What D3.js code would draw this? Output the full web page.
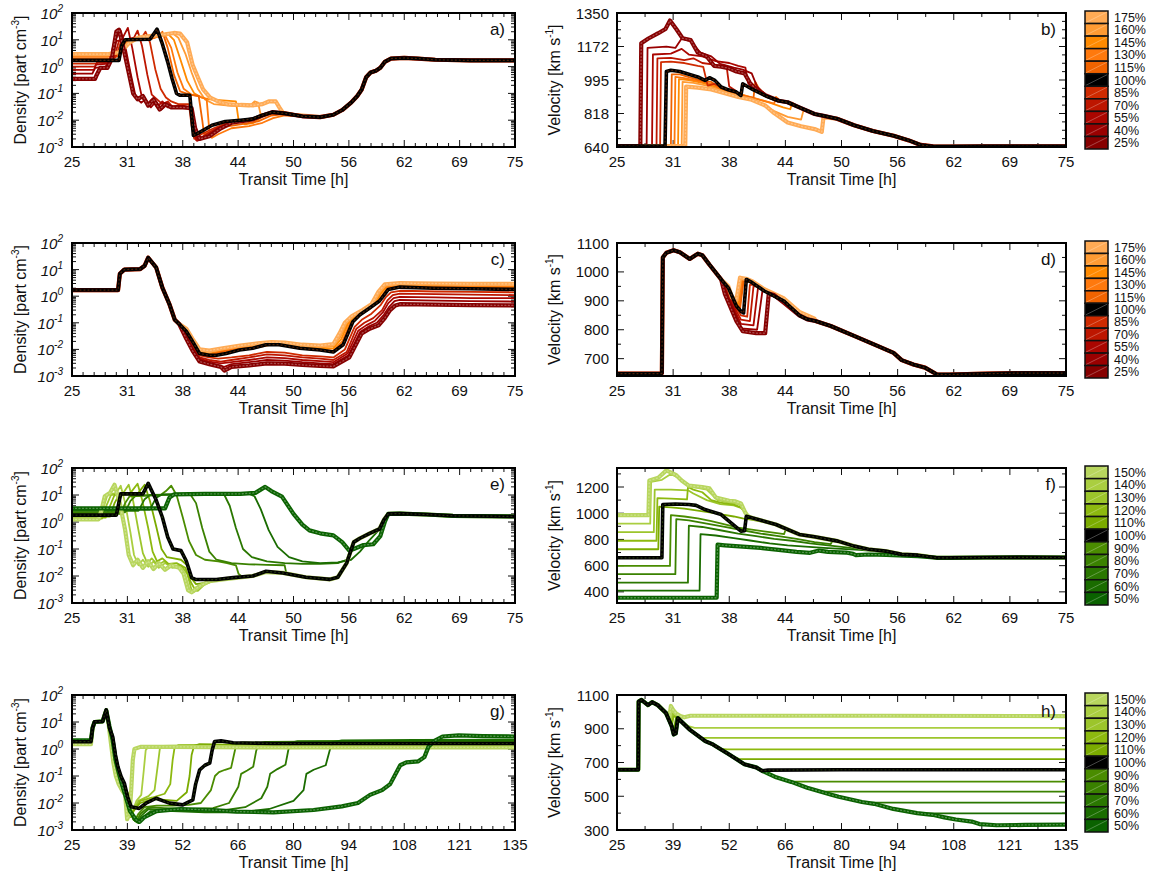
<!DOCTYPE html>
<html>
<head>
<meta charset="utf-8">
<script src="https://cdn.jsdelivr.net/npm/d3@7"></script>
<style>
  html, body { margin: 0; padding: 0; background: #fff; }
  text { font-family: "Liberation Sans", Arial, sans-serif; fill: #111; }
</style>
</head>
<body>
<script>
// ---------- categories, colours and tick labels ----------
const orangeLabels = ["175%","160%","145%","130%","115%","100%","85%","70%","55%","40%","25%"];
const greenLabels  = ["150%","140%","130%","120%","110%","100%","90%","80%","70%","60%","50%"];
const orangeColors = ["#ffab55","#ff9b33","#ff8a00","#ff790d","#f06300","#000000","#cf2a00","#bd1600","#aa0600","#990000","#860000"];
const greenColors  = ["#b8d65e","#aace40","#9cc52b","#8db90f","#7bab00","#000000","#4a8c00","#3a8100","#2a7700","#1a6c00","#0a6200"];
const xLabelsShort = ["25","31","38","44","50","56","62","69","75"];
const xLabelsLong  = ["25","39","52","66","80","94","108","121","135"];
const densExponents = [-3,-2,-1,0,1,2];
const velTicksB = [640, 817.5, 995, 1172.5, 1350];
const velLabelsB = ["640","818","995","1172","1350"];
const velTicksD = [700,800,900,1000,1100];
const velTicksF = [400,600,800,1000,1200];
const velTicksH = [300,500,700,900,1100];

// joins a curve head with the part of a shared tail that follows it
function join(head, tail) {
  const last = head[head.length - 1][0];
  return head.concat(tail.filter(p => p[0] > last));
}

// ---------- a) density, orange family ----------
const tailA = [[53,0.013],[54.5,0.016],[55.5,0.024],[56.5,0.045],[57.2,0.08],[57.7,0.14],[58.2,0.4],[58.7,0.6],[59.3,0.7],[59.8,0.9],[60.3,1.5],[61,2.0],[62.5,2.1],[64,2.0],[66,1.8],[70,1.7],[75,1.7]];
const densA = [
  join([[25,2.9],[29,2.9],[30.5,3.5],[31.5,8],[32.5,12],[34,14],[35.5,16],[36.5,18],[37.2,17],[38,8],[38.6,1.2],[39.2,0.4],[39.8,0.14],[40.6,0.07],[41.5,0.05],[42.5,0.04],[44,0.037],[45.5,0.036],[46.5,0.04],[47.2,0.05],[48,0.05],[48.4,0.03],[48.8,0.019],[50,0.016],[52,0.014]], tailA),
  join([[25,2.7],[29,2.7],[30.3,3.2],[31.2,8],[32.2,11],[34,13],[35.3,16],[36.4,17],[37,12],[37.8,3],[38.5,0.6],[39.2,0.15],[40,0.06],[41,0.04],[43,0.034],[45,0.033],[45.6,0.05],[46,0.045],[46.3,0.016],[47.5,0.018],[49,0.017],[51,0.014]], tailA),
  join([[25,2.5],[29,2.5],[30.3,3],[31,7],[32,10],[34,12],[35,15],[35.8,17],[36.5,10],[37.2,2],[38,0.3],[38.8,0.1],[39.6,0.07],[40.6,0.06],[42,0.055],[43.5,0.05],[43.8,0.01],[44.5,0.007],[45.5,0.008],[46.5,0.014],[47.7,0.018],[49,0.017],[51,0.014]], tailA),
  join([[25,2.3],[29,2.3],[30.3,2.8],[31,7],[32,10],[34,11],[35,14],[35.5,15],[36.2,5],[36.9,0.6],[37.6,0.15],[38.5,0.09],[39.5,0.075],[40.2,0.06],[40.5,0.004],[40.8,0.0022],[41.5,0.003],[43,0.005],[45,0.006],[46.5,0.008],[47.7,0.012],[49,0.015],[51,0.014]], tailA),
  join([[25,2.0],[29.5,2.0],[30.4,2.6],[31,8],[32,10],[34,11],[34.8,14],[35.2,20],[35.8,5],[36.5,0.5],[37.2,0.12],[38.3,0.09],[39.3,0.08],[39.7,0.01],[39.9,0.003],[40.5,0.0035],[42,0.0055],[44,0.007],[46,0.009],[47.5,0.015],[49,0.017],[51,0.014]], tailA),
  join([[25,1.7],[30.3,1.7],[30.6,6],[31,10],[33.8,10.5],[34.3,18],[34.6,25],[35.2,7],[35.8,1.5],[36.3,0.35],[36.8,0.1],[37.2,0.085],[38.3,0.085],[38.55,0.01],[38.7,0.0027],[39.4,0.0035],[40.8,0.0065],[42.3,0.009],[44,0.01],[45.3,0.011],[46.4,0.015],[47.6,0.02],[49,0.018],[51,0.014]], tailA),
  join([[25,1.3],[27.8,1.3],[28,1.6],[29.5,1.6],[30,2.5],[30.5,8],[31.2,10],[32.8,11],[33.3,20],[33.8,8],[34.4,0.8],[35,0.15],[35.6,0.07],[36.2,0.05],[37,0.04],[38.2,0.04],[38.5,0.006],[38.8,0.002],[39.6,0.003],[41,0.005],[42.5,0.008],[44,0.0095],[45.3,0.011],[46.4,0.015],[47.6,0.02],[49,0.018],[51,0.014]], tailA),
  join([[25,1.0],[27.6,1.0],[27.8,1.4],[29.3,1.4],[29.8,2.5],[30.3,9],[31,10],[32,12],[32.4,22],[32.9,6],[33.5,0.5],[34,0.09],[34.6,0.06],[35.2,0.04],[35.8,0.05],[36.4,0.03],[37.5,0.035],[38.4,0.03],[38.7,0.005],[39,0.0018],[39.8,0.0025],[41.3,0.005],[43,0.008],[44.5,0.0095],[45.5,0.011],[46.5,0.015],[47.6,0.02],[49,0.018],[51,0.014]], tailA),
  join([[25,0.75],[27.5,0.75],[27.7,1.2],[29.2,1.3],[29.6,2.5],[30,9],[30.6,10],[31.3,28],[31.8,5],[32.4,0.4],[32.9,0.07],[33.5,0.04],[34,0.06],[34.6,0.03],[35.2,0.05],[35.8,0.03],[37,0.035],[38.3,0.03],[38.8,0.004],[39.1,0.0017],[40,0.0023],[41.5,0.005],[43,0.008],[44.5,0.0095],[45.5,0.011],[46.5,0.015],[47.6,0.02],[49,0.018],[51,0.014]], tailA),
  join([[25,0.55],[27.3,0.55],[27.6,0.9],[28.8,1.0],[29.2,1.6],[29.8,9],[30.5,22],[31,6],[31.6,0.6],[32.2,0.07],[32.8,0.045],[33.3,0.06],[33.9,0.03],[34.5,0.05],[35.1,0.025],[35.8,0.04],[36.5,0.03],[37.5,0.032],[38.4,0.028],[38.9,0.004],[39.3,0.0019],[40.2,0.0025],[41.7,0.005],[43,0.008],[44.5,0.0095],[45.5,0.011],[46.5,0.015],[47.6,0.02],[49,0.018],[51,0.014]], tailA),
  join([[25,0.35],[27.6,0.35],[27.8,0.5],[28.2,0.9],[29,0.9],[29.5,2],[30,20],[30.3,24],[30.8,5],[31.4,0.6],[31.9,0.1],[32.4,0.06],[33,0.08],[33.6,0.035],[34.2,0.06],[34.9,0.025],[35.5,0.04],[36.2,0.03],[37.5,0.03],[38.5,0.028],[38.9,0.005],[39.4,0.002],[40.5,0.0025],[41.8,0.005],[43,0.008],[44.5,0.0095],[45.5,0.011],[46.5,0.015],[47.6,0.02],[49,0.018],[51,0.014]], tailA)
];

// ---------- b) velocity, orange family ----------
const tailB = [[43,885],[44,877],[45.3,850],[47,815],[48,805],[49.5,790],[51.4,755],[53.5,725],[55.8,700],[57.5,675],[58.8,651],[60.2,643],[62,642],[66,644],[75,644]];
const velB = [
  join([[25,645],[32.6,645],[32.7,960],[34,955],[35.5,945],[37,925],[38.5,905],[40,890],[41.5,860],[42.5,820],[44,770],[45.5,750],[47,735],[47.8,720],[48,800],[48.5,795]], tailB),
  join([[25,645],[32.2,645],[32.3,985],[33.5,980],[35,965],[36.5,945],[38,920],[39.5,900],[41,870],[42.5,830],[44,800],[45.5,785],[45.8,840],[46.5,825]], tailB),
  join([[25,645],[31.8,645],[31.9,1000],[33,995],[34.5,980],[36,960],[37.5,935],[39,915],[40.5,895],[42,875],[43.5,850],[44.3,840],[44.5,875],[45.3,850]], tailB),
  join([[25,645],[31.4,645],[31.5,1012],[32.5,1005],[34,990],[35.5,975],[36.5,950],[38,930],[39.5,910],[41,890],[42.5,870],[42.7,905],[43.2,885]], tailB),
  join([[25,645],[31.0,645],[31.1,1025],[32,1025],[33,1010],[34.5,990],[35.5,985],[36.5,955],[37.5,935],[38.5,920],[39.5,905],[40.2,900],[40.4,985],[40.8,950],[41.8,906]], tailB),
  join([[25,645],[30.35,645],[30.5,1040],[31,1047],[32,1040],[34,1011],[34.8,993],[35.3,1007],[35.9,993],[36.6,958],[37.4,943],[38.3,931],[38.8,913],[39,975],[40.1,945],[41.8,906]], tailB),
  join([[25,645],[29.8,645],[29.9,1090],[31,1092],[32.5,1085],[34,1070],[34.6,1065],[35.1,965],[35.8,975],[36.6,958],[37.4,943],[38.3,931],[38.8,913],[39,975],[40.1,945],[41.8,906]], tailB),
  join([[25,645],[29.4,645],[29.5,1110],[31,1112],[32.5,1100],[33.5,1110],[34.5,1085],[36,1075],[37.2,1070],[37.5,960],[38.3,935],[38.8,913],[39,975],[40.1,945],[41.8,906]], tailB),
  join([[25,645],[28.9,645],[29.0,1130],[31,1135],[32.2,1160],[33,1130],[34.5,1120],[36,1095],[37.5,1085],[38.5,1070],[39.3,1060],[39.6,980],[40.1,950],[41.8,906]], tailB),
  join([[25,645],[28.3,645],[28.4,1165],[30.5,1172],[31.5,1165],[32.2,1215],[33.2,1200],[34.3,1140],[35.5,1120],[36.5,1080],[38,1060],[39,1050],[40,1030],[40.6,960],[41.8,906]], tailB),
  join([[25,645],[27.6,645],[27.7,1190],[28.5,1215],[29.6,1243],[30.4,1265],[30.9,1310],[31.6,1265],[32.3,1216],[33.2,1207],[34,1140],[35,1120],[35.8,1070],[36.6,1065],[37.4,1058],[38.3,1040],[39.2,1030],[39.8,980],[40.5,945],[41.5,915]], tailB)
];

// ---------- c) density, orange family ----------
const headC = [[25,1.7],[30.2,1.7],[30.4,7],[30.9,10],[32.7,10.5],[33.2,14],[33.6,28],[34.5,12],[35.2,2.1],[36,0.5],[36.6,0.13],[37.1,0.09]];
const densC = [
  headC.concat([[37.9,0.06],[38.6,0.025],[39.4,0.01],[40.5,0.009],[42,0.011],[44,0.014],[46,0.017],[47.5,0.019],[49,0.018],[51,0.015],[53,0.014],[54.5,0.016],[55.2,0.04],[55.8,0.1],[56.6,0.18],[57.8,0.3],[58.8,0.5],[59.6,1.5],[60.3,2.8],[62,3.1],[66,3.0],[70,2.9],[75,2.9]]),
  headC.concat([[37.9,0.055],[38.6,0.023],[39.4,0.009],[40.5,0.008],[42,0.01],[44,0.013],[46,0.016],[47.5,0.017],[49,0.016],[51,0.013],[53,0.012],[54.5,0.013],[55.3,0.03],[56,0.09],[56.8,0.17],[58,0.28],[59,0.5],[59.8,1.4],[60.4,2.5],[62,2.8],[66,2.7],[70,2.6],[75,2.6]]),
  headC.concat([[37.9,0.052],[38.6,0.022],[39.4,0.008],[40.5,0.007],[42,0.009],[44,0.012],[46,0.014],[47.5,0.016],[49,0.015],[51,0.012],[53,0.011],[54.5,0.011],[55.4,0.025],[56.2,0.1],[57,0.17],[58.2,0.3],[59.2,0.5],[59.9,1.3],[60.5,2.3],[62,2.6],[66,2.5],[70,2.4],[75,2.4]]),
  headC.concat([[37.9,0.05],[38.6,0.021],[39.4,0.0075],[40.5,0.0065],[42,0.0085],[44,0.011],[46,0.013],[47.5,0.015],[49,0.014],[51,0.011],[53,0.01],[54.5,0.009],[55.5,0.02],[56.4,0.1],[57.2,0.17],[58.4,0.3],[59.4,0.55],[60.1,1.2],[60.6,2.1],[62,2.4],[66,2.3],[70,2.2],[75,2.2]]),
  headC.concat([[37.9,0.049],[38.6,0.02],[39.4,0.007],[40.5,0.006],[42,0.008],[44,0.0105],[46,0.012],[47.5,0.015],[49,0.014],[51,0.0105],[53,0.0095],[54.5,0.0085],[55.6,0.017],[56.6,0.1],[57.4,0.18],[58.5,0.32],[59.6,0.6],[60.2,1.2],[60.7,1.9],[62,2.3],[66,2.1],[70,2.0],[75,2.0]]),
  headC.concat([[37.9,0.048],[38.6,0.02],[39.4,0.007],[40.5,0.006],[41.3,0.006],[42.4,0.007],[43.9,0.0095],[45.4,0.011],[46.9,0.015],[48.4,0.015],[50.7,0.011],[53,0.0095],[54.5,0.008],[55.6,0.015],[56.7,0.11],[57.5,0.2],[58.6,0.36],[59.7,0.66],[60.3,1.2],[60.7,1.8],[62,2.2],[65.8,2.0],[70,1.9],[75,1.8]]),
  headC.concat([[37.9,0.04],[38.6,0.015],[39.4,0.006],[40.5,0.005],[41.5,0.0045],[43,0.005],[45,0.006],[47,0.008],[49,0.0075],[51,0.006],[53,0.0055],[54.5,0.005],[55.8,0.01],[56.9,0.07],[57.7,0.13],[58.8,0.22],[59.8,0.45],[60.4,0.9],[61,1.4],[62,1.6],[66,1.5],[70,1.45],[75,1.4]]),
  headC.concat([[37.9,0.035],[38.6,0.013],[39.4,0.005],[40.5,0.004],[41.8,0.0035],[43,0.004],[45,0.005],[47,0.0065],[49,0.006],[51,0.005],[53,0.0045],[54.5,0.004],[56,0.008],[57.1,0.06],[58,0.1],[59,0.15],[60,0.3],[60.6,0.7],[61.2,1.1],[62,1.25],[66,1.2],[70,1.15],[75,1.1]]),
  headC.concat([[37.9,0.03],[38.6,0.011],[39.4,0.0045],[40.5,0.0035],[41.8,0.003],[43,0.0033],[45,0.004],[47,0.005],[49,0.0047],[51,0.004],[53,0.0036],[54.5,0.0033],[56.1,0.007],[57.3,0.05],[58.2,0.08],[59.2,0.12],[60.1,0.25],[60.7,0.55],[61.3,0.85],[62,0.95],[66,0.9],[70,0.85],[75,0.85]]),
  headC.concat([[37.9,0.028],[38.6,0.01],[39.4,0.004],[40.5,0.003],[41.8,0.0024],[42.2,0.0022],[43,0.0028],[45,0.0033],[47,0.004],[49,0.0038],[51,0.0033],[53,0.003],[54.5,0.0028],[56.2,0.006],[57.5,0.045],[58.4,0.07],[59.4,0.1],[60.2,0.2],[60.8,0.4],[61.4,0.65],[62,0.72],[66,0.68],[70,0.65],[75,0.63]]),
  headC.concat([[37.9,0.025],[38.6,0.009],[39.4,0.0035],[40.5,0.0028],[41.8,0.0022],[42.2,0.0016],[43,0.0022],[45,0.0025],[47,0.003],[49,0.0029],[51,0.0026],[53,0.0024],[54.5,0.0023],[56.3,0.005],[57.7,0.04],[58.6,0.06],[59.6,0.08],[60.3,0.15],[60.9,0.3],[61.5,0.45],[62,0.5],[66,0.48],[70,0.46],[75,0.45]])
];

// ---------- d) velocity, orange family ----------
const headD = [[25,648],[29.9,648],[30.0,650],[30.1,1050],[30.5,1066],[31.3,1075],[32,1068],[33.1,1045],[34,1063],[34.5,1058],[35.3,1025],[36.6,974]];
const tailD = [[43.6,899],[45.3,850],[46.2,836],[47.1,830],[48.8,813],[51.4,779],[54,744],[55.8,720],[56.7,695],[58,680],[59.3,669],[60.6,646],[62,645],[66,648],[70,650],[75,650]];
const velD = [
  join(headD.concat([[37.4,950],[37.8,912],[38.3,903],[38.7,980],[39.5,975],[40.1,967],[41.4,940],[43.6,908],[45.3,862],[47,838]]), tailD),
  join(headD.concat([[37.4,948],[37.9,905],[38.4,895],[38.8,976],[40.1,965],[41.4,938],[43.6,906],[45.3,860]]), tailD),
  join(headD.concat([[37.4,947],[38.0,898],[38.5,888],[38.9,973],[40.1,964],[41.4,937],[43.6,904]]), tailD),
  join(headD.concat([[37.4,946],[38.1,892],[38.6,880],[39.0,970],[40.1,963],[41.4,936],[43.6,902]]), tailD),
  join(headD.concat([[37.4,945],[38.2,888],[38.7,872],[39.1,968],[40.1,962],[41.4,934],[43.6,900]]), tailD),
  join(headD.concat([[37.4,945],[38.3,882],[38.8,864],[39.1,858],[39.4,974],[40.1,962],[41.4,934]]), tailD),
  join(headD.concat([[37.4,940],[38.3,875],[38.8,850],[39.5,845],[39.8,955],[40.4,955],[41.4,933],[43.6,898]]), tailD),
  join(headD.concat([[37.3,935],[38.3,865],[38.8,835],[39.8,830],[40.2,950],[40.7,950],[41.5,932],[43.6,897]]), tailD),
  join(headD.concat([[37.2,932],[38.3,855],[38.8,820],[40.2,815],[40.7,945],[41.1,942],[41.6,930],[43.6,896]]), tailD),
  join(headD.concat([[37.1,930],[38.3,845],[38.8,805],[40.6,800],[41.2,935],[41.6,930],[43.6,895]]), tailD),
  join(headD.concat([[37.0,925],[38.3,830],[39,795],[40.5,788],[41.5,788],[41.9,925],[42.5,920],[43.6,893]]), tailD)
];

// ---------- e) density, green family ----------
const tailE = [[54.1,0.0075],[55,0.009],[56,0.03],[56.8,0.18],[57.5,0.25],[58.6,0.38],[59.7,0.55],[60.2,1.2],[60.7,2.0],[62,2.05],[65,1.9],[68,1.7],[75,1.6]];
const densE = [
  join([[25,1.25],[28,1.25],[28.3,2.5],[28.7,9],[29.3,12],[29.8,24],[30.4,5],[31,0.5],[31.4,0.06],[31.9,0.025],[32.4,0.04],[33,0.02],[33.6,0.035],[34.2,0.018],[34.8,0.03],[35.5,0.017],[36.2,0.025],[37.1,0.02],[37.6,0.012],[38.1,0.003],[38.5,0.0025],[39.3,0.004],[40.5,0.0065],[42,0.0075],[43.5,0.0085],[45.4,0.01],[46.9,0.014],[48.8,0.013],[51.4,0.009]], tailE),
  join([[25,1.3],[28.2,1.3],[28.5,3],[29,10],[30,12],[30.5,22],[31,5],[31.6,0.4],[32,0.06],[32.5,0.025],[33,0.04],[33.6,0.022],[34.2,0.035],[34.8,0.02],[35.5,0.03],[36.3,0.02],[37.2,0.022],[37.8,0.01],[38.3,0.0028],[38.8,0.0026],[39.7,0.0045],[41,0.0068],[42.5,0.0078],[44,0.009],[45.4,0.01],[46.9,0.014],[48.8,0.013],[51.4,0.009]], tailE),
  join([[25,1.35],[28.4,1.35],[28.8,3.5],[29.4,10],[30.8,12],[31.4,24],[31.9,6],[32.5,0.5],[33,0.07],[33.5,0.03],[34,0.045],[34.7,0.025],[35.4,0.035],[36.2,0.022],[37.3,0.025],[38,0.012],[38.5,0.003],[39.2,0.0028],[40,0.005],[41.3,0.0072],[43,0.0085],[45.4,0.01],[46.9,0.014],[48.8,0.013],[51.4,0.009]], tailE),
  join([[25,1.45],[28.8,1.45],[29.3,4],[29.8,10],[31.6,12],[32.4,26],[32.9,7],[33.6,0.6],[34.1,0.08],[34.6,0.035],[35.2,0.045],[35.9,0.028],[36.8,0.03],[37.8,0.02],[38.4,0.006],[38.8,0.0035],[39.6,0.0045],[41,0.0072],[43,0.0085],[45.4,0.01],[46.9,0.014],[48.8,0.013],[51.4,0.009]], tailE),
  join([[25,1.6],[29.3,1.6],[29.8,5],[30.3,10],[32.4,11],[33.2,24],[33.8,6],[34.5,0.7],[35.1,0.1],[35.7,0.05],[36.5,0.045],[37.3,0.04],[38,0.025],[38.5,0.008],[39,0.005],[40,0.0055],[41.5,0.0075],[43,0.0085],[45.4,0.01],[46.9,0.014],[48.8,0.013],[51.4,0.009]], tailE),
  join([[25,1.8],[30,1.8],[30.5,11],[33,11],[33.6,27],[34.5,6.5],[35.2,1.5],[35.8,0.28],[36.4,0.1],[37.3,0.087],[37.9,0.036],[38.5,0.0087],[39,0.0074],[41.3,0.0074],[43.2,0.0087],[45.4,0.01],[46.9,0.015],[48.8,0.013],[51.4,0.009]], tailE),
  join([[25,2.0],[30.5,2.0],[31,5],[31.5,9],[35,10],[35.6,14],[36.2,22],[36.8,10],[37.5,1.5],[38.2,0.2],[39,0.06],[40,0.04],[41.5,0.035],[42.5,0.03],[43.5,0.025],[43.8,0.012],[44.3,0.009],[45.4,0.01],[46.9,0.014],[48.8,0.013],[51.4,0.009]], tailE),
  join([[25,2.3],[31,2.3],[31.6,6],[32.2,9.5],[37,10.5],[38.4,10],[39,5],[39.7,0.6],[40.5,0.08],[41.3,0.04],[43,0.03],[45,0.027],[47,0.026],[49,0.025],[49.2,0.012],[49.6,0.011],[51.4,0.009]], tailE),
  join([[25,2.6],[32.5,2.6],[33.2,7],[33.8,10],[41,11],[42.2,10],[42.8,4],[43.5,0.6],[44.3,0.1],[45.3,0.05],[47,0.035],[49,0.03],[51,0.028],[53,0.028],[55,0.03],[56,0.04]], tailE),
  join([[25,2.9],[33.8,2.9],[34.5,8],[35.2,10.5],[45,11],[45.6,9],[46.3,3],[47.2,0.5],[48.2,0.12],[49.5,0.05],[51,0.035],[53,0.03],[55,0.032],[56.5,0.04],[57.5,0.08],[58.5,0.2],[59.5,0.45],[60.2,1.0]], tailE),
  join([[25,3.2],[35.5,3.2],[36,8],[36.5,10.5],[40,11],[44,11],[45.7,12],[46.8,20],[47.5,14],[48.7,8.7],[50,2],[51,0.8],[51.8,0.49],[53,0.38],[54.5,0.32],[55.5,0.18],[56.3,0.087],[56.8,0.1],[57.9,0.14],[59,0.15],[59.8,0.3],[60.3,1.0],[60.7,2.0]], tailE)
];

// ---------- f) velocity, green family ----------
const tailF = [[42.7,914],[45.3,838],[47,820],[49.6,787],[51.4,749],[53,725],[54.9,711],[56.7,686],[58.5,680],[60.6,660],[62,660],[66,662],[70,663],[75,662]];
const velF = [
  join([[25,985],[28.5,985],[28.6,1250],[29.6,1270],[30.5,1327],[31.6,1290],[32.2,1250],[33,1210],[34.5,1200],[35.3,1190],[36,1120],[37.5,1095],[38.2,1090],[38.8,1075],[39.3,1003],[39.6,975],[40.1,964]], tailF),
  join([[25,920],[28.7,920],[28.8,1240],[30,1255],[31,1300],[31.8,1270],[32.5,1230],[33.5,1200],[35,1180],[36.2,1100],[37.5,1080],[38.5,1070],[39,1050],[39.6,975],[40.1,964]], tailF),
  join([[25,855],[29.1,855],[29.2,1180],[31,1180],[32.9,1175],[33.5,1150],[35,1100],[36.5,1070],[38,1060],[38.8,1040],[39.5,990],[40.1,964]], tailF),
  join([[25,790],[29.4,790],[29.5,1115],[31,1112],[32.8,1105],[32.9,1200],[33.5,1180],[34.5,1160],[35.5,1100],[36.5,1080],[38,1065],[38.8,1045],[39.5,990],[40.1,964]], tailF),
  join([[25,725],[29.6,725],[29.7,1050],[31,1045],[32.5,1035],[34,1020],[35.5,1005],[36.8,990],[38,975],[39,960],[40.1,950]], tailF),
  join([[25,660],[30,660],[30.1,1066],[31.5,1070],[33,1066],[33.8,1060],[34.8,1028],[36.6,990],[37.9,914],[38.8,863],[39.2,866],[39.4,977],[40.1,964]], tailF),
  join([[25,598],[30.9,598],[31.0,985],[32.5,975],[34,960],[35.5,940],[37,915],[38.5,890],[40,875],[42,855],[43.6,840],[43.8,880],[44.5,860],[45.3,838]], tailF),
  join([[25,535],[31.5,535],[31.6,955],[33,945],[35,920],[37,895],[39,870],[41,845],[43,825],[45,805],[47,780],[48.8,765],[49.1,800],[49.6,787]], tailF),
  join([[25,470],[32.9,470],[33.0,905],[34.5,895],[36.5,870],[38.5,845],[40.5,825],[42.5,805],[44.5,790],[46.5,770],[48.5,755],[50.5,740],[51.6,732],[51.9,745],[53,725]], tailF),
  join([[25,410],[34.2,410],[34.3,840],[36,830],[38,810],[40,790],[42,770],[44,755],[46,745],[48,735],[50,728],[52,720],[54,710],[55,700],[56.7,686]], tailF),
  join([[25,355],[36.1,355],[36.2,760],[37,755],[39,745],[41,735],[43,720],[45,705],[46.5,698],[47.5,715],[48.5,705],[50.5,700],[51.3,690],[51.6,680],[53,685],[55,682],[57,676],[58.5,672],[60.6,660]], tailF)
];

// ---------- g) density, green family, long run ----------
const densG = [
  [[25,1.5],[29.7,1.5],[30.1,6],[30.6,10],[32.6,10.5],[33.1,18],[33.5,27],[34.1,8],[34.7,1.5],[35.3,0.3],[35.9,0.1],[36.6,0.05],[37.4,0.03],[38.2,0.02],[38.7,0.0025],[39.3,0.004],[39.7,0.03],[40.1,0.4],[40.5,1.0],[42,1.2],[50,1.2],[70,1.15],[100,1.15],[135,1.15]],
  [[25,1.55],[29.7,1.55],[30.1,6],[30.6,10],[32.6,10.5],[33.1,18],[33.5,27],[34.2,8],[34.8,1.5],[35.4,0.3],[36,0.1],[36.8,0.05],[37.6,0.03],[38.5,0.02],[39,0.003],[39.8,0.004],[41,0.012],[42.2,0.02],[42.8,0.15],[43.3,0.9],[44,1.25],[50,1.3],[70,1.25],[100,1.2],[135,1.2]],
  [[25,1.6],[29.7,1.6],[30.1,6],[30.6,10],[32.6,10.5],[33.1,18],[33.5,27],[34.3,8],[34.9,1.6],[35.5,0.3],[36.2,0.1],[37,0.05],[38,0.03],[38.8,0.02],[39.3,0.003],[40,0.0045],[41.5,0.012],[44,0.018],[45.5,0.03],[46.3,0.25],[46.8,1.0],[47.5,1.3],[55,1.35],[75,1.3],[100,1.3],[135,1.25]],
  [[25,1.65],[29.7,1.65],[30.1,6],[30.6,10],[32.6,10.5],[33.1,18],[33.5,27],[34.4,8],[35,1.8],[35.6,0.35],[36.3,0.12],[37.2,0.05],[38.2,0.03],[39,0.02],[39.5,0.003],[40.3,0.005],[42,0.012],[45,0.016],[48,0.022],[49.4,0.05],[50,0.4],[50.5,1.2],[51.5,1.4],[60,1.4],[80,1.35],[110,1.35],[135,1.3]],
  [[25,1.75],[29.7,1.75],[30.1,6],[30.6,10],[32.6,10.5],[33.1,18],[33.5,27],[34.4,8],[35.1,2],[35.7,0.4],[36.4,0.13],[37.3,0.06],[38.3,0.035],[39.1,0.02],[39.7,0.004],[40.6,0.006],[42,0.01],[45,0.014],[48,0.013],[51,0.012],[53.5,0.025],[54.2,0.1],[54.7,0.6],[55.3,1.3],[56.5,1.5],[65,1.45],[90,1.45],[135,1.4]],
  [[25,1.86],[29.7,1.86],[30.1,6],[30.6,10.2],[32.6,10.5],[33.1,18],[33.5,28],[34.3,6],[35.1,2.9],[35.8,0.6],[36.4,0.22],[37.2,0.095],[38,0.054],[38.8,0.017],[39.7,0.0072],[41.7,0.0063],[43.4,0.0098],[45.9,0.015],[47.6,0.012],[49.2,0.0099],[52.5,0.0085],[55,0.013],[55.7,0.05],[56.7,0.17],[58,0.25],[59.2,0.3],[59.8,0.9],[60.4,1.9],[62,2.0],[65,1.7],[75,1.6],[90,1.6],[110,1.6],[135,1.6]],
  [[25,1.9],[29.7,1.9],[30.1,6],[30.6,10],[32.6,10.5],[33.1,18],[33.5,27],[34.3,7],[35.1,2.5],[35.8,0.5],[36.5,0.2],[37.3,0.08],[38.2,0.03],[39.2,0.008],[40,0.003],[40.6,0.0022],[41.5,0.004],[43,0.007],[46,0.008],[50,0.008],[54,0.0085],[57,0.01],[59.5,0.03],[60.5,0.1],[61.5,0.14],[63,0.17],[64.5,0.2],[65.2,0.6],[65.8,1.5],[67,1.75],[80,1.75],[110,1.8],[135,1.8]],
  [[25,1.95],[29.7,1.95],[30.1,6],[30.6,10],[32.6,10.5],[33.1,18],[33.5,27],[34.3,7],[35.1,2.4],[35.8,0.5],[36.5,0.18],[37.3,0.07],[38.2,0.025],[39.2,0.006],[40.2,0.0025],[41,0.002],[42,0.004],[44,0.007],[48,0.0065],[54,0.006],[60,0.0065],[64,0.01],[66.3,0.04],[67,0.12],[68.5,0.16],[70,0.22],[70.7,0.8],[71.3,1.6],[73,1.85],[90,1.9],[120,1.9],[135,1.9]],
  [[25,2.0],[29.7,2.0],[30.1,6],[30.6,10],[32.6,10.5],[33.1,18],[33.5,27],[34.3,7],[35.1,2.3],[35.8,0.45],[36.5,0.17],[37.3,0.065],[38.2,0.022],[39.2,0.006],[40.3,0.0024],[41.2,0.0019],[42.3,0.0035],[44,0.006],[48,0.0055],[55,0.005],[62,0.0052],[68,0.007],[72,0.015],[73.5,0.04],[74.2,0.12],[76,0.18],[78,0.26],[78.7,0.9],[79.3,1.7],[81,1.95],[100,2.0],[135,2.0]],
  [[25,2.05],[29.7,2.05],[30.1,6],[30.6,10],[32.6,10.5],[33.1,18],[33.5,27],[34.3,7],[35.1,2.2],[35.8,0.45],[36.5,0.16],[37.3,0.06],[38.2,0.02],[39.3,0.005],[40.6,0.0024],[41.5,0.0018],[42.6,0.003],[44.5,0.005],[50,0.005],[58,0.0045],[66,0.0045],[74,0.006],[80,0.012],[82.5,0.03],[83.2,0.12],[85,0.17],[88,0.25],[89,0.9],[89.7,1.8],[92,2.1],[110,2.15],[135,2.2]],
  [[25,2.1],[29.7,2.1],[30.1,6],[30.6,10],[32.6,10.5],[33.1,18],[33.5,27],[34.3,7],[35.1,2.1],[35.8,0.4],[36.5,0.15],[37.3,0.055],[38.2,0.02],[39.4,0.005],[40.9,0.0024],[41.8,0.002],[43,0.003],[46,0.005],[52,0.006],[60,0.0055],[66,0.0048],[75,0.0045],[85,0.0055],[92,0.0075],[96,0.01],[99,0.02],[102,0.03],[104,0.05],[106.5,0.25],[108,0.32],[111,0.35],[112.5,0.5],[113.5,1.2],[115,2.0],[117,2.9],[121,3.2],[127,3.0],[135,2.9]]
];

// ---------- h) velocity, green family, long run ----------
const headH = [[25,657],[30.2,657],[30.3,1061],[31,1071],[32.6,1040],[33.6,1058],[35,1040],[37,993]];
const fallH = [[38.4,915],[38.9,866],[39.4,872],[39.9,963],[42.8,895],[46.6,827],[48.5,807],[52.4,749],[56.2,690],[59.1,671],[60.5,651]];
const decayH = [[60.5,651],[64,612],[67.7,585],[71.6,550],[77.3,510],[79.3,497],[85,466],[88,455],[92.7,425],[98.5,400],[102.3,390],[105.2,375],[108,362],[111.9,350],[113.8,335],[118,328],[125,330],[135,332]];
const velH = [
  headH.concat([[37.8,960],[38.2,1035],[38.8,1010],[39.5,990],[40.5,975],[41.5,968],[43,977],[60,977],[90,977],[135,975]]),
  headH.concat([[38.1,930],[38.5,1010],[39.5,985],[41,945],[42.5,915],[44,905],[50,905],[135,905]]),
  headH.concat([[38.3,920],[38.7,990],[40,960],[42.5,900],[44.5,860],[45.6,846],[47,846],[135,846]]),
  headH.concat([[38.4,915],[38.9,975],[40,962],[42.8,897],[46.6,828],[48.5,805],[50.4,780],[52,778],[135,778]]),
  headH.concat([[38.4,915],[38.9,900],[39.5,968],[42.8,896],[46.6,827],[48.5,807],[52.4,749],[54.8,722],[56,720],[135,720]]),
  headH.concat(fallH).concat([[62,655],[80,657],[100,657],[135,657]]),
  headH.concat(fallH).concat([[64,612],[66.5,592],[68,587],[135,587]]),
  headH.concat(fallH).concat(decayH.filter(p => p[0] > 60.5 && p[0] < 74)).concat([[74.5,528],[135,528]]),
  headH.concat(fallH).concat(decayH.filter(p => p[0] > 60.5 && p[0] < 85.5)).concat([[86,462],[135,462]]),
  headH.concat(fallH).concat(decayH.filter(p => p[0] > 60.5 && p[0] < 98.5)).concat([[99.5,398],[135,398]]),
  headH.concat(fallH).concat(decayH.filter(p => p[0] > 60.5))
];

// ---------- layout ----------
const W = 1154, H = 877;
const cols = [{x0: 72, x1: 515}, {x0: 617, x1: 1066}];
const rows = [{y0: 13, y1: 147}, {y0: 243, y1: 376}, {y0: 468, y1: 603}, {y0: 695, y1: 830}];

const panels = [
  {tag: "a)", col: 0, row: 0, kind: "dens", data: densA, colors: orangeColors, speck: "#8c3a0c", xMax: 75,  xLabels: xLabelsShort, xSub: 5},
  {tag: "b)", col: 1, row: 0, kind: "vel",  data: velB,  colors: orangeColors, speck: "#8c3a0c", xMax: 75,  xLabels: xLabelsShort, xSub: 2,
   yDomain: [640, 1350], yTicks: velTicksB, yLabels: velLabelsB, ySub: 4},
  {tag: "c)", col: 0, row: 1, kind: "dens", data: densC, colors: orangeColors, speck: "#8c3a0c", xMax: 75,  xLabels: xLabelsShort, xSub: 5},
  {tag: "d)", col: 1, row: 1, kind: "vel",  data: velD,  colors: orangeColors, speck: "#8c3a0c", xMax: 75,  xLabels: xLabelsShort, xSub: 2,
   yDomain: [640, 1100], yTicks: velTicksD, yLabels: velTicksD.map(String), ySub: 2},
  {tag: "e)", col: 0, row: 2, kind: "dens", data: densE, colors: greenColors,  speck: "#3c5c14", xMax: 75,  xLabels: xLabelsShort, xSub: 5},
  {tag: "f)", col: 1, row: 2, kind: "vel",  data: velF,  colors: greenColors,  speck: "#3c5c14", xMax: 75,  xLabels: xLabelsShort, xSub: 2,
   yDomain: [315, 1345], yTicks: velTicksF, yLabels: velTicksF.map(String), ySub: 2},
  {tag: "g)", col: 0, row: 3, kind: "dens", data: densG, colors: greenColors,  speck: "#3c5c14", xMax: 135, xLabels: xLabelsLong,  xSub: 5},
  {tag: "h)", col: 1, row: 3, kind: "vel",  data: velH,  colors: greenColors,  speck: "#3c5c14", xMax: 135, xLabels: xLabelsLong,  xSub: 2,
   yDomain: [300, 1100], yTicks: velTicksH, yLabels: velTicksH.map(String), ySub: 2}
];
const legends = [
  {row: 0, labels: orangeLabels, colors: orangeColors},
  {row: 1, labels: orangeLabels, colors: orangeColors},
  {row: 2, labels: greenLabels,  colors: greenColors},
  {row: 3, labels: greenLabels,  colors: greenColors}
];

const svg = d3.select("body").append("svg")
  .attr("width", W).attr("height", H)
  .attr("viewBox", `0 0 ${W} ${H}`);

const MAJOR = 7, MINOR = 4, FS = 15;

panels.forEach((p, pi) => {
  const {x0, x1} = cols[p.col];
  const {y0, y1} = rows[p.row];
  const g = svg.append("g");
  const x = d3.scaleLinear().domain([25, p.xMax]).range([x0, x1]);
  const y = p.kind === "dens"
    ? d3.scaleLog().domain([1e-3, 1e2]).range([y1, y0]).clamp(true)
    : d3.scaleLinear().domain(p.yDomain).range([y1, y0]).clamp(true);

  const clipId = "clip" + pi;
  svg.append("clipPath").attr("id", clipId)
    .append("rect").attr("x", x0).attr("y", y0).attr("width", x1 - x0).attr("height", y1 - y0);

  // ---- x ticks (evenly spaced, mirrored top and bottom) ----
  const nX = p.xLabels.length - 1;
  const xStep = (p.xMax - 25) / nX;
  const xMajors = d3.range(nX + 1).map(i => 25 + i * xStep);
  const xMinors = [];
  for (let i = 0; i < nX; i++) for (let k = 1; k < p.xSub; k++) xMinors.push(xMajors[i] + k * xStep / p.xSub);
  const tickG = g.append("g").attr("stroke", "#111").attr("stroke-width", 1);
  xMajors.forEach(v => {
    tickG.append("line").attr("x1", x(v)).attr("x2", x(v)).attr("y1", y1).attr("y2", y1 - MAJOR);
    tickG.append("line").attr("x1", x(v)).attr("x2", x(v)).attr("y1", y0).attr("y2", y0 + MAJOR);
  });
  xMinors.forEach(v => {
    tickG.append("line").attr("x1", x(v)).attr("x2", x(v)).attr("y1", y1).attr("y2", y1 - MINOR);
    tickG.append("line").attr("x1", x(v)).attr("x2", x(v)).attr("y1", y0).attr("y2", y0 + MINOR);
  });
  xMajors.forEach((v, i) => {
    g.append("text").attr("x", x(v)).attr("y", y1 + 20).attr("text-anchor", "middle")
      .attr("font-size", FS).text(p.xLabels[i]);
  });
  g.append("text").attr("x", (x0 + x1) / 2).attr("y", y1 + 38).attr("text-anchor", "middle")
    .attr("font-size", 16).text("Transit Time [h]");

  // ---- y ticks ----
  if (p.kind === "dens") {
    const majors = densExponents.map(e => Math.pow(10, e));
    const minors = [];
    densExponents.slice(0, -1).forEach(e => { for (let m = 2; m <= 9; m++) minors.push(m * Math.pow(10, e)); });
    majors.forEach(v => {
      tickG.append("line").attr("x1", x0).attr("x2", x0 + MAJOR).attr("y1", y(v)).attr("y2", y(v));
      tickG.append("line").attr("x1", x1).attr("x2", x1 - MAJOR).attr("y1", y(v)).attr("y2", y(v));
    });
    minors.forEach(v => {
      tickG.append("line").attr("x1", x0).attr("x2", x0 + MINOR).attr("y1", y(v)).attr("y2", y(v));
      tickG.append("line").attr("x1", x1).attr("x2", x1 - MINOR).attr("y1", y(v)).attr("y2", y(v));
    });
    densExponents.forEach(e => {
      const t = g.append("text").attr("x", x0 - 9).attr("y", y(Math.pow(10, e)) + 6)
        .attr("text-anchor", "end").attr("font-size", FS).attr("font-style", "italic");
      t.append("tspan").text("10");
      t.append("tspan").attr("dy", -7).attr("font-size", 10).text(String(e));
    });
    const yt = g.append("text")
      .attr("transform", `translate(26,${(y0 + y1) / 2}) rotate(-90)`)
      .attr("text-anchor", "middle").attr("font-size", 16);
    yt.append("tspan").text("Density [part cm");
    yt.append("tspan").attr("dy", -7).attr("font-size", 10).text("-3");
    yt.append("tspan").attr("dy", 7).text("]");
  } else {
    const majors = p.yTicks;
    const step = majors[1] - majors[0];
    const minors = [];
    const sub = step / p.ySub;
    for (let v = majors[0] - sub; v >= p.yDomain[0] - 1e-6; v -= sub) minors.push(v);
    for (let i = 0; i < majors.length - 1; i++) for (let k = 1; k < p.ySub; k++) minors.push(majors[i] + k * sub);
    for (let v = majors[majors.length - 1] + sub; v <= p.yDomain[1] + 1e-6; v += sub) minors.push(v);
    majors.forEach(v => {
      tickG.append("line").attr("x1", x0).attr("x2", x0 + MAJOR).attr("y1", y(v)).attr("y2", y(v));
      tickG.append("line").attr("x1", x1).attr("x2", x1 - MAJOR).attr("y1", y(v)).attr("y2", y(v));
    });
    minors.forEach(v => {
      tickG.append("line").attr("x1", x0).attr("x2", x0 + MINOR).attr("y1", y(v)).attr("y2", y(v));
      tickG.append("line").attr("x1", x1).attr("x2", x1 - MINOR).attr("y1", y(v)).attr("y2", y(v));
    });
    majors.forEach((v, i) => {
      g.append("text").attr("x", x0 - 8).attr("y", y(v) + 5.5).attr("text-anchor", "end")
        .attr("font-size", FS).text(p.yLabels[i]);
    });
    const yt = g.append("text")
      .attr("transform", `translate(${x0 - 57},${(y0 + y1) / 2}) rotate(-90)`)
      .attr("text-anchor", "middle").attr("font-size", 16);
    yt.append("tspan").text("Velocity [km s");
    yt.append("tspan").attr("dy", -7).attr("font-size", 10).text("-1");
    yt.append("tspan").attr("dy", 7).text("]");
  }

  // ---- curves: thin members first, thick extremes next, reference run on top ----
  const line = d3.line().x(d => x(d[0])).y(d => y(d[1]));
  const order = [1, 2, 3, 4, 6, 7, 8, 9, 0, 10, 5];
  const lines = g.append("g").attr("clip-path", `url(#${clipId})`).attr("fill", "none")
    .attr("stroke-linejoin", "round").attr("stroke-linecap", "round");
  order.forEach(i => {
    const thick = i === 0 || i === 10;
    const w = i === 5 ? 3.6 : (thick ? 4.2 : 1.8);
    lines.append("path").datum(p.data[i]).attr("d", line)
      .attr("stroke", p.colors[i]).attr("stroke-width", w);
    // beaded look of the heavy curves
    if (thick) {
      lines.append("path").datum(p.data[i]).attr("d", line)
        .attr("stroke", "#fff").attr("stroke-opacity", 0.3).attr("stroke-width", 1.3)
        .attr("stroke-dasharray", "1 2.5");
    } else if (i === 5) {
      lines.append("path").datum(p.data[i]).attr("d", line)
        .attr("stroke", p.speck).attr("stroke-opacity", 0.55).attr("stroke-width", 1.2)
        .attr("stroke-dasharray", "1 3");
    }
  });

  // ---- frame and tag ----
  g.append("rect").attr("x", x0).attr("y", y0).attr("width", x1 - x0).attr("height", y1 - y0)
    .attr("fill", "none").attr("stroke", "#000").attr("stroke-width", 2);
  g.append("text").attr("x", x1 - 10).attr("y", y0 + 22).attr("text-anchor", "end")
    .attr("font-size", 17).text(p.tag);
});

// ---------- colour keys ----------
legends.forEach(lg => {
  const {y0, y1} = rows[lg.row];
  const top = y0 - 2, bottom = y1 + 2;
  const bh = (bottom - top) / lg.labels.length;
  const bx = 1085, bw = 23;
  const g = svg.append("g");
  lg.labels.forEach((lab, i) => {
    const by = top + i * bh;
    g.append("rect").attr("x", bx).attr("y", by).attr("width", bw).attr("height", bh)
      .attr("fill", lg.colors[i]).attr("stroke", "#111").attr("stroke-width", 1.5);
    g.append("line").attr("x1", bx + 1).attr("y1", by + bh - 1).attr("x2", bx + bw - 1).attr("y2", by + 1)
      .attr("stroke", "#fff").attr("stroke-opacity", 0.35).attr("stroke-width", 0.8);
    g.append("text").attr("x", bx + bw + 6).attr("y", by + bh / 2 + 4.5)
      .attr("font-size", 12.5).text(lab);
  });
});
</script>
</body>
</html>
